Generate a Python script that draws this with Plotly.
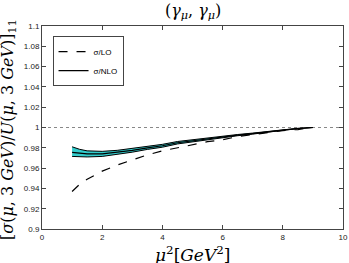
import plotly.graph_objects as go

mu2 = [1, 1.25, 1.5, 2, 2.5, 3, 3.5, 4, 4.5, 5, 5.5, 6, 6.5, 7, 7.5, 8, 8.5, 9]
lo = [0.937, 0.944, 0.949, 0.957, 0.963, 0.968, 0.973, 0.977, 0.980, 0.983,
      0.986, 0.988, 0.991, 0.993, 0.995, 0.997, 0.998, 1.0]
nlo = [0.9755, 0.9745, 0.974, 0.974, 0.9755, 0.9775, 0.980, 0.982, 0.985, 0.987,
       0.989, 0.991, 0.9925, 0.994, 0.996, 0.9975, 0.999, 1.0]
nlo_up = [0.981, 0.9785, 0.977, 0.9765, 0.9775, 0.9793, 0.9816, 0.9834, 0.9862, 0.988,
          0.9898, 0.9918, 0.9931, 0.9945, 0.9963, 0.9978, 0.9992, 1.0]
nlo_lo = [0.9715, 0.971, 0.971, 0.9715, 0.9735, 0.9757, 0.9784, 0.9806, 0.9838, 0.986,
          0.9882, 0.9902, 0.9919, 0.9935, 0.9957, 0.9972, 0.9988, 1.0]

fig = go.Figure()
fig.add_trace(go.Scatter(x=[0, 10], y=[1, 1], mode="lines",
                         line=dict(color="#888", width=1, dash="dot"),
                         showlegend=False, hoverinfo="skip"))
fig.add_trace(go.Scatter(x=mu2, y=nlo_lo, mode="lines",
                         line=dict(color="black", width=1), showlegend=False))
fig.add_trace(go.Scatter(x=mu2, y=nlo_up, mode="lines", fill="tonexty",
                         fillcolor="#33cccc",
                         line=dict(color="black", width=1), showlegend=False))
fig.add_trace(go.Scatter(x=mu2, y=lo, mode="lines", name="σ/LO",
                         line=dict(color="black", width=1.2, dash="dash")))
fig.add_trace(go.Scatter(x=mu2, y=nlo, mode="lines", name="σ/NLO",
                         line=dict(color="black", width=1.2)))

axis_common = dict(showline=True, linecolor="#444", linewidth=1, mirror="ticks",
                   ticks="inside", ticklen=4, tickcolor="#444", showgrid=False,
                   zeroline=False, automargin=False,
                   tickfont=dict(family="Liberation Sans", size=8, color="#222"))

fig.update_layout(
    width=349, height=263,
    margin=dict(l=42, r=6, t=26, b=34),
    paper_bgcolor="white", plot_bgcolor="white",
    xaxis=dict(range=[0, 10], tickvals=[0, 2, 4, 6, 8, 10], **axis_common),
    yaxis=dict(range=[0.9, 1.1], tickvals=[0.9, 0.92, 0.94, 0.96, 0.98, 1, 1.02, 1.04, 1.06, 1.08, 1.1],
               ticktext=["0.9", "0.92", "0.94", "0.96", "0.98", "1", "1.02", "1.04", "1.06", "1.08", "1.1"],
               **axis_common),
    legend=dict(x=0.035, y=0.95, xanchor="left", yanchor="top", traceorder="normal",
                bgcolor="white", bordercolor="#444", borderwidth=1,
                font=dict(family="Liberation Sans", size=8, color="black"),
                tracegroupgap=0, itemwidth=30),
    annotations=[
        dict(text="(<i>γ<sub>μ</sub></i>, <i>γ<sub>μ</sub></i>)", xref="paper", yref="paper",
             x=0.5, y=1, yshift=15, xanchor="center", yanchor="middle", showarrow=False,
             font=dict(family="DejaVu Serif", size=16, color="black")),
        dict(text="<i>μ</i><sup>2</sup>[<i>GeV</i><sup>2</sup>]", xref="paper", yref="paper",
             x=0.5, y=0, yshift=-12, xanchor="center", yanchor="top", showarrow=False,
             font=dict(family="DejaVu Serif", size=17, color="black")),
        dict(text="[<i>σ</i>(<i>μ</i>, 3 <i>GeV</i>)/<i>U</i>(<i>μ</i>, 3 <i>GeV</i>)]<sub>11</sub>",
             xref="paper", yref="paper", x=0, y=0.5, yshift=-2, xshift=-21, xanchor="right",
             yanchor="middle", textangle=-90, showarrow=False,
             font=dict(family="DejaVu Serif", size=16, color="black")),
    ],
)

fig.write_html("out.html", config={"displayModeBar": False},
               post_script="document.body.style.margin='0';")
